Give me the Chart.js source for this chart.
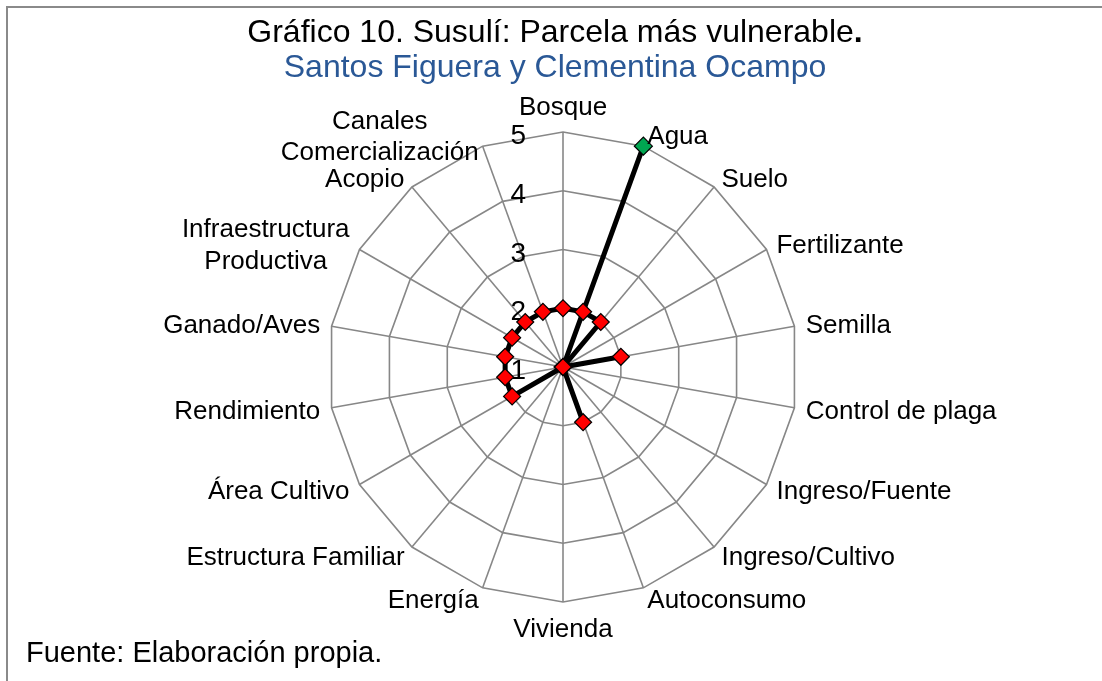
<!DOCTYPE html>
<html>
<head>
<meta charset="utf-8">
<script src="https://cdn.jsdelivr.net/npm/chart.js@4.4.1/dist/chart.umd.min.js"></script>
<style>
  html, body { margin: 0; padding: 0; background: #fff; overflow: hidden; }
  body { width: 1102px; height: 681px; position: relative; font-family: "Liberation Sans", Arial, sans-serif; }
  #frame { position: absolute; left: 6px; top: 6px; width: 1200px; height: 800px; border-top: 2px solid #8a8a8a; border-left: 2px solid #8a8a8a; }
  #wrap { position: absolute; left: 0; top: 0; width: 1102px; height: 681px; }
  .t { position: absolute; left: 0; width: 1110px; text-align: center; white-space: nowrap; line-height: 1; }
  #title { top: 14.6px; font-size: 32px; color: #000; }
  #subtitle { top: 49.6px; font-size: 32px; color: #2A5896; }
  #footer { position: absolute; left: 26px; top: 637.5px; font-size: 29px; line-height: 1; color: #000; white-space: nowrap; }
</style>
</head>
<body>
<div id="frame"></div>
<div id="wrap"><canvas id="c"></canvas></div>
<div class="t" id="title">Gráfico 10. Susulí: Parcela más vulnerable<b>.</b></div>
<div class="t" id="subtitle">Santos Figuera y Clementina Ocampo</div>
<div id="footer">Fuente: Elaboración propia.</div>
<script>
const categories = [
  'Bosque', 'Agua', 'Suelo', 'Fertilizante', 'Semilla', 'Control de plaga',
  'Ingreso/Fuente', 'Ingreso/Cultivo', 'Autoconsumo', 'Vivienda', 'Energía',
  'Estructura Familiar', 'Área Cultivo', 'Rendimiento', 'Ganado/Aves',
  ['Infraestructura', 'Productiva'], 'Acopio', ['Canales', 'Comercialización']
];
const parcelaValues = [2, 2, 2, 1, 2, 1, 1, 1, 2, 1, 1, 1, 2, 2, 2, 2, 2, 2];
const aguaValues    = [1, 5, 1, 1, 1, 1, 1, 1, 1, 1, 1, 1, 1, 1, 1, 1, 1, 1];
const tickValues = [1, 2, 3, 4, 5];

const FONT = '"Liberation Sans", Arial, sans-serif';

const excelLabels = {
  id: 'excelLabels',
  beforeDatasetsDraw(chart) {
    const s = chart.scales.r;
    const ctx = chart.ctx;
    ctx.save();
    ctx.font = '28px ' + FONT;
    ctx.fillStyle = '#000';
    ctx.textAlign = 'right';
    ctx.textBaseline = 'alphabetic';
    tickValues.forEach(v => {
      const y = s.yCenter - s.getDistanceFromCenterForValue(v);
      ctx.fillText(String(v), s.xCenter - 37, y + 12);
    });
    ctx.restore();
  },
  afterDraw(chart) {
    const s = chart.scales.r;
    const ctx = chart.ctx;
    ctx.save();
    ctx.font = '26px ' + FONT;
    ctx.fillStyle = '#000';
    ctx.textAlign = 'center';
    ctx.textBaseline = 'alphabetic';
    const lh = 31.5;
    chart.data.labels.forEach((lab, i) => {
      const lines = Array.isArray(lab) ? lab : [lab];
      const n = lines.length;
      const p = s.getPointPosition(i, s.drawingArea + 11.5);
      let deg = Math.round((s.getIndexAngle(i) * 180 / Math.PI) % 360);
      if (deg < 0) deg += 360;
      const w = Math.max(...lines.map(l => ctx.measureText(l).width));
      let cx, cy;
      const blockH = 29 + (n - 1) * lh;
      if (deg === 0) { cx = p.x; cy = p.y - blockH / 2; }
      else if (deg === 180) { cx = p.x; cy = p.y + blockH / 2; }
      else if (deg < 180) { cx = p.x + w / 2; cy = p.y; }
      else { cx = p.x - w / 2; cy = p.y; }
      lines.forEach((l, j) => {
        ctx.fillText(l, cx, cy + 9 + (j - (n - 1) / 2) * lh);
      });
    });
    ctx.restore();
  }
};

new Chart(document.getElementById('c'), {
  type: 'radar',
  data: {
    labels: categories,
    datasets: [
      {
        label: 'Parcela',
        data: parcelaValues,
        borderColor: '#000',
        borderWidth: 5,
        fill: false,
        tension: 0,
        pointStyle: 'rectRot',
        pointRadius: 8.5,
        pointHoverRadius: 8.5,
        pointBackgroundColor: '#FF0000',
        pointBorderColor: '#000',
        pointBorderWidth: 1.2
      },
      {
        label: 'Agua',
        data: aguaValues,
        borderColor: '#000',
        borderWidth: 5,
        fill: false,
        tension: 0,
        pointStyle: 'rectRot',
        pointRadius: ctx => (ctx.raw > 1 ? 9 : 0),
        pointHoverRadius: ctx => (ctx.raw > 1 ? 9 : 0),
        pointBackgroundColor: '#00A651',
        pointBorderColor: '#000',
        pointBorderWidth: 1.2
      }
    ]
  },
  options: {
    responsive: true,
    maintainAspectRatio: false,
    animation: false,
    events: [],
    layout: { padding: { left: 328, right: 304, top: 132, bottom: 79 } },
    plugins: { legend: { display: false }, tooltip: { enabled: false }, title: { display: false } },
    scales: {
      r: {
        min: 1,
        max: 5,
        startAngle: 0,
        ticks: { display: false, stepSize: 1 },
        pointLabels: { display: false },
        grid: { circular: false, color: '#878787', lineWidth: 1.6 },
        angleLines: { display: true, color: '#878787', lineWidth: 1.6 }
      }
    }
  },
  plugins: [excelLabels]
});
</script>
</body>
</html>
